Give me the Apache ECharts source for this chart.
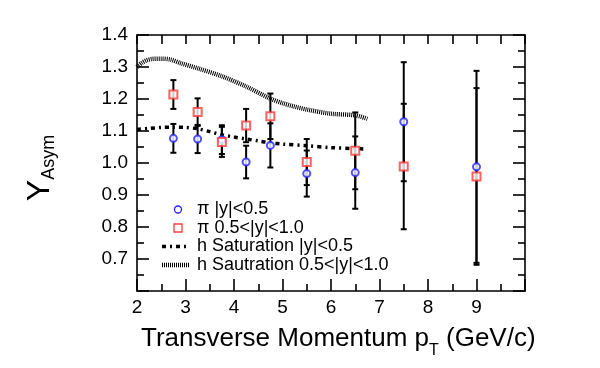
<!DOCTYPE html>
<html>
<head>
<meta charset="utf-8">
<script src="https://cdn.jsdelivr.net/npm/echarts@6.0.0/dist/echarts.min.js"></script>
<style>
  html, body { margin: 0; padding: 0; background: #fff; }
  #chart { width: 600px; height: 368px; }
</style>
</head>
<body>
<div id="chart"></div>
<script>
// ---- data ----
const pt = [2.75, 3.25, 3.75, 4.25, 4.75, 5.5, 6.5, 7.5, 9.0];
const piMid    = [1.077, 1.075, 1.073, 1.003, 1.055, 0.967, 0.970, 1.129, 0.988];
const piMidErr = [0.045, 0.044, 0.045, 0.051, 0.069, 0.072, 0.113, 0.186, 0.300];
const piFwd    = [1.214, 1.159, 1.066, 1.117, 1.146, 1.003, 1.038, 0.989, 0.958];
const piFwdErr = [0.045, 0.043, 0.047, 0.052, 0.071, 0.072, 0.120, 0.196, 0.276];

const satMidX = [2.0, 2.25, 2.5, 2.75, 3.0, 3.25, 3.5, 3.75, 4.0, 4.25, 4.5, 4.75, 5.0, 5.5, 6.0, 6.5, 6.75];
const satMidY = [1.105, 1.108, 1.111, 1.112, 1.111, 1.107, 1.098, 1.088, 1.081, 1.075, 1.069, 1.063, 1.059, 1.054, 1.048, 1.045, 1.043];

const satFwdX = [2.0, 2.1, 2.2, 2.3, 2.5, 2.7, 2.9, 3.25, 3.75, 4.25, 4.75, 5.0, 5.25, 5.5, 6.0, 6.5, 6.75];
const satFwdY = [1.300, 1.313, 1.321, 1.325, 1.326, 1.323, 1.312, 1.296, 1.271, 1.239, 1.201, 1.187, 1.176, 1.167, 1.154, 1.149, 1.138];

const xTicks = [2, 3, 4, 5, 6, 7, 8, 9];          // labelled x ticks
const yTicks = [0.7, 0.8, 0.9, 1.0, 1.1, 1.2, 1.3, 1.4]; // labelled y ticks

const names = ['π |y|<0.5', 'π 0.5<|y|<1.0', 'h Saturation |y|<0.5', 'h Sautration 0.5<|y|<1.0'];

// ---- chart ----
const FONT = '"Liberation Sans", Arial, Helvetica, sans-serif';
const BLUE = '#2424ff';
const RED = '#ff3a3a';
const MID_DASH = [4, 4, 2, 4];
const FWD_DASH = [1, 1];
const chart = echarts.init(document.getElementById('chart'), null, { renderer: 'canvas' });

const axisLineStyle = { color: '#000', width: 1.6 };

function errRender(params, api) {
  const x = api.value(0), y = api.value(1), e = api.value(2);
  const t = api.coord([x, y + e]);
  const b = api.coord([x, y - e]);
  const w = 3;
  const st = { stroke: '#000', lineWidth: 2 };
  return {
    type: 'group',
    children: [
      { type: 'line', shape: { x1: t[0], y1: t[1], x2: b[0], y2: b[1] }, style: st },
      { type: 'line', shape: { x1: t[0] - w, y1: t[1], x2: t[0] + w, y2: t[1] }, style: st },
      { type: 'line', shape: { x1: b[0] - w, y1: b[1], x2: b[0] + w, y2: b[1] }, style: st }
    ]
  };
}

// legend drawn as graphic elements (key only, no data)
const legRowsY = [209.5, 228, 246.5, 265];
const legText = (i) => ({
  type: 'text', x: 197, y: legRowsY[i], z: 100,
  style: { text: names[i], fontSize: 18, fontFamily: FONT, fill: '#000', verticalAlign: 'middle', align: 'left' }
});
const legendGraphics = [
  { type: 'circle', z: 100, shape: { cx: 178, cy: legRowsY[0], r: 3.5 }, style: { fill: '#fff', stroke: BLUE, lineWidth: 1.3 } },
  { type: 'rect', z: 100, shape: { x: 174, y: legRowsY[1] - 4, width: 8, height: 8 }, style: { fill: '#fff', stroke: RED, lineWidth: 1.3 } },
  { type: 'line', z: 100, shape: { x1: 162, y1: legRowsY[2], x2: 190, y2: legRowsY[2] }, style: { stroke: '#000', lineWidth: 3.5, lineDash: MID_DASH } },
  { type: 'line', z: 100, shape: { x1: 162, y1: legRowsY[3], x2: 190, y2: legRowsY[3] }, style: { stroke: '#000', lineWidth: 4.5, lineDash: FWD_DASH } },
  legText(0), legText(1), legText(2), legText(3)
];

const option = {
  animation: false,
  backgroundColor: '#fff',
  grid: { left: 137, right: 75, top: 35, bottom: 77, containLabel: false },
  xAxis: [
    {
      type: 'value', min: 2, max: 10, interval: 1, position: 'bottom',
      axisLine: { show: true, onZero: false, lineStyle: axisLineStyle },
      axisTick: { show: true, inside: true, length: 12, lineStyle: axisLineStyle },
      minorTick: { show: true, splitNumber: 2, length: 7, lineStyle: axisLineStyle },
      splitLine: { show: false },
      axisLabel: {
        fontSize: 19, fontFamily: FONT, color: '#000', margin: 7,
        formatter: v => (xTicks.indexOf(Math.round(v)) >= 0 ? String(Math.round(v)) : '')
      }
    },
    {
      type: 'value', min: 2, max: 10, interval: 1, position: 'top',
      axisLine: { show: true, onZero: false, lineStyle: axisLineStyle },
      axisTick: { show: true, inside: true, length: 9, lineStyle: axisLineStyle },
      minorTick: { show: true, splitNumber: 2, length: 9, lineStyle: axisLineStyle },
      splitLine: { show: false },
      axisLabel: { show: false }
    }
  ],
  yAxis: [
    {
      type: 'value', min: 0.6, max: 1.4, interval: 0.1, position: 'left',
      axisLine: { show: true, onZero: false, lineStyle: axisLineStyle },
      axisTick: { show: true, inside: true, length: 12, lineStyle: axisLineStyle },
      minorTick: { show: true, splitNumber: 2, length: 7, lineStyle: axisLineStyle },
      splitLine: { show: false },
      axisLabel: {
        fontSize: 19, fontFamily: FONT, color: '#000', margin: 9,
        formatter: v => {
          const r = Math.round(v * 10) / 10;
          return yTicks.some(t => Math.abs(t - r) < 1e-6) ? r.toFixed(1) : '';
        }
      }
    },
    {
      type: 'value', min: 0.6, max: 1.4, interval: 0.1, position: 'right',
      axisLine: { show: true, onZero: false, lineStyle: axisLineStyle },
      axisTick: { show: true, inside: true, length: 12, lineStyle: axisLineStyle },
      minorTick: { show: true, splitNumber: 2, length: 7, lineStyle: axisLineStyle },
      splitLine: { show: false },
      axisLabel: { show: false }
    }
  ],
  graphic: [
    {
      type: 'text', x: 141, y: 319, z: 100,
      style: {
        text: '{m|Transverse Momentum p}{s|T}{m| (GeV/c)}',
        verticalAlign: 'top', align: 'left',
        rich: {
          m: { fontSize: 26, fontFamily: FONT, fill: '#000', lineHeight: 40 },
          s: { fontSize: 16, fontFamily: FONT, fill: '#000', lineHeight: 10, verticalAlign: 'bottom' }
        }
      }
    },
    {
      type: 'text', x: 40, y: 168, rotation: Math.PI / 2, z: 100,
      style: {
        text: '{m|Y}{s|Asym}',
        align: 'center', verticalAlign: 'middle',
        rich: {
          m: { fontSize: 32, fontFamily: FONT, fill: '#000', lineHeight: 36 },
          s: { fontSize: 18, fontFamily: FONT, fill: '#000', lineHeight: 21, verticalAlign: 'bottom' }
        }
      }
    }
  ].concat(legendGraphics),
  series: [
    {
      name: names[3], type: 'line', symbol: 'none', showSymbol: false, smooth: 0.3, z: 1,
      data: satFwdX.map((x, i) => [x, satFwdY[i]]),
      lineStyle: { color: '#000', width: 4.5, type: FWD_DASH },
      itemStyle: { color: '#000' }
    },
    {
      name: names[2], type: 'line', symbol: 'none', showSymbol: false, smooth: 0.3, z: 1,
      data: satMidX.map((x, i) => [x, satMidY[i]]),
      lineStyle: { color: '#000', width: 3.5, type: MID_DASH },
      itemStyle: { color: '#000' }
    },
    {
      name: 'errMid', type: 'custom', renderItem: errRender, z: 2,
      data: pt.map((x, i) => [x, piMid[i], piMidErr[i]])
    },
    {
      name: 'errFwd', type: 'custom', renderItem: errRender, z: 2,
      data: pt.map((x, i) => [x, piFwd[i], piFwdErr[i]])
    },
    {
      name: names[0], type: 'scatter', symbol: 'emptyCircle', symbolSize: 7, z: 3,
      data: pt.map((x, i) => [x, piMid[i]]),
      itemStyle: { color: BLUE, borderColor: BLUE, borderWidth: 1.3 }
    },
    {
      name: names[1], type: 'scatter', symbol: 'emptyRect', symbolSize: 8, z: 3,
      data: pt.map((x, i) => [x, piFwd[i]]),
      itemStyle: { color: RED, borderColor: RED, borderWidth: 1.3 }
    }
  ]
};
chart.setOption(option);
</script>
</body>
</html>
